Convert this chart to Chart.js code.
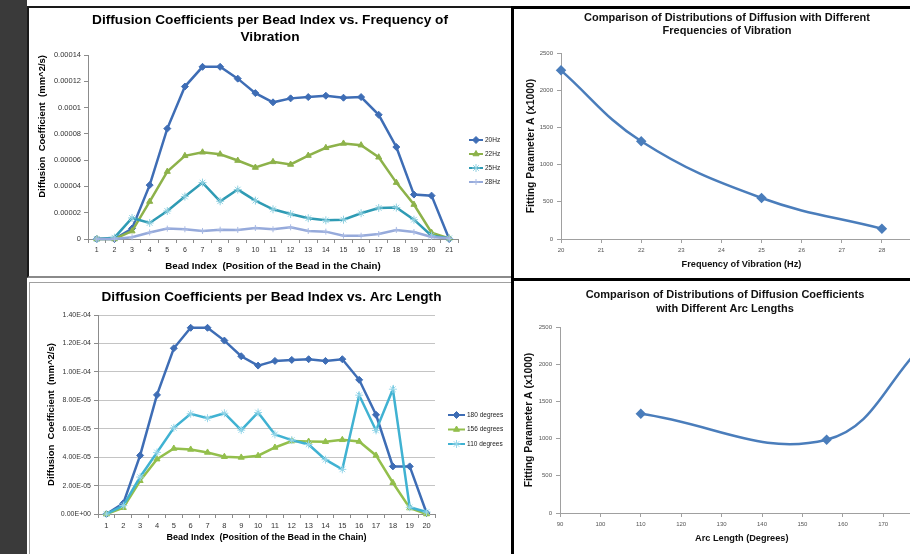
<!DOCTYPE html>
<html>
<head>
<meta charset="utf-8">
<title>Diffusion coefficients</title>
<script src="https://cdn.jsdelivr.net/npm/chart.js@4.4.1/dist/chart.umd.min.js"></script>
<style>
    html, body { margin: 0; padding: 0; width: 910px; height: 554px; overflow: hidden; background: #fff; }
    .strip { position: absolute; left: 0; top: 0; width: 27px; height: 554px; background: #3a3a3a; }
    .panel { position: absolute; box-sizing: border-box; }
    #panelA { left: 27px; top: 6px; width: 486px; height: 272px; border: 2px solid #1a1a1a; border-bottom-color: #8a8a8a; }
    #panelC { left: 29px; top: 282px; width: 484px; height: 290px; border: 1px solid #a0a0a0; }
    #panelB { left: 511px; top: 6px; width: 440px; height: 275px; border: 3px solid #000; }
    #panelD { left: 511px; top: 278px; width: 440px; height: 300px; border: 3px solid #000; }
    canvas { position: absolute; }
</style>
</head>
<body>
<div class="strip"></div>
<div class="panel" id="panelA"></div>
<div class="panel" id="panelC"></div>
<div class="panel" id="panelB"></div>
<div class="panel" id="panelD"></div>
<canvas id="Freq" width="484" height="268" style="left:28px;top:8px"></canvas>
<canvas id="Arc" width="481" height="270" style="left:31px;top:284px"></canvas>
<canvas id="FitFreq" width="454" height="266" style="left:500px;top:9px"></canvas>
<canvas id="FitArc" width="450" height="271" style="left:500px;top:283px"></canvas>
<script>
// Eje X de los graficos por bead
const beadLabels21 = ["1", "2", "3", "4", "5", "6", "7", "8", "9", "10", "11", "12", "13", "14", "15", "16", "17", "18", "19", "20", "21"];
const beadLabels20 = ["1", "2", "3", "4", "5", "6", "7", "8", "9", "10", "11", "12", "13", "14", "15", "16", "17", "18", "19", "20"];

// Coeficientes por frecuencia (mm^2/s)
const freq20Hz = [0, 0, 0.000008, 0.000041, 0.000084, 0.000116, 0.000131, 0.000131, 0.000122, 0.000111, 0.000104, 0.000107, 0.000108, 0.000109, 0.0001075, 0.000108, 0.0000945, 0.00007, 0.0000338, 0.000033, 0];
const freq22Hz = [0, 0, 0.000006, 0.0000285, 0.0000513, 0.0000633, 0.000066, 0.0000645, 0.0000597, 0.0000544, 0.0000587, 0.0000567, 0.0000635, 0.0000694, 0.0000727, 0.0000714, 0.0000622, 0.0000429, 0.0000262, 0.0000048, 0.0000005];
const freq25Hz = [0, 0.000001, 0.000016, 0.0000122, 0.0000213, 0.0000323, 0.0000429, 0.0000287, 0.0000376, 0.0000292, 0.0000226, 0.000019, 0.0000158, 0.0000142, 0.0000147, 0.0000196, 0.0000236, 0.0000239, 0.0000147, 0.0000025, 0.0000005];
const freq28Hz = [0, 0, 0.0000013, 0.000005, 0.0000079, 0.0000074, 0.0000061, 0.0000071, 0.0000069, 0.0000084, 0.0000074, 0.0000089, 0.0000061, 0.0000056, 0.0000025, 0.0000025, 0.0000038, 0.0000069, 0.0000053, 0.0000015, 0.0000005];

// Coeficientes por longitud de arco (mm^2/s)
const arc180 = [0, 0.0000075, 0.0000412, 0.0000838, 0.0001166, 0.000131, 0.000131, 0.000122, 0.000111, 0.0001044, 0.0001077, 0.0001084, 0.0001089, 0.0001077, 0.0001089, 0.0000944, 0.0000698, 0.0000335, 0.0000335, 0.0000007];
const arc156 = [0, 0.0000044, 0.0000234, 0.0000386, 0.0000461, 0.0000454, 0.0000433, 0.0000403, 0.0000398, 0.000041, 0.0000468, 0.0000513, 0.000051, 0.0000508, 0.0000522, 0.000051, 0.0000412, 0.000022, 0.0000042, 0];
const arc110 = [0, 0.0000059, 0.000026, 0.0000433, 0.0000606, 0.0000705, 0.0000674, 0.0000709, 0.000059, 0.0000714, 0.000056, 0.000052, 0.0000489, 0.0000382, 0.0000314, 0.0000836, 0.0000588, 0.0000878, 0.0000047, 0.0000014];

// Parametro de ajuste A (x1000)
const freqValues = [20, 22, 25, 28];
const fitByFreq = [2267, 1313, 551, 138];
const arcValues = [110, 156, 180];
const fitByArc = [1333, 985, 2267];

const plain = '"Liberation Sans", Arial, sans-serif';
const axisGrey = "#8c8c8c";

Chart.defaults.font.family = plain;
Chart.defaults.color = "#333";

function fixWidth(w) { return function (scale) { scale.width = w; }; }
function fixHeight(h) { return function (scale) { scale.height = h; }; }

function sci(v) {
    const parts = Number(v).toExponential(2).split("e");
    const n = Number(parts[1]);
    return parts[0] + "E" + (n < 0 ? "-" : "+") + String(Math.abs(n)).padStart(2, "0");
}

// espacio reservado a la derecha (leyenda / recorte)
function spacer(w) {
    return {
        type: "linear",
        position: "right",
        ticks: { display: false },
        grid: { display: false },
        border: { display: false },
        afterFit: fixWidth(w)
    };
}

// leyenda estilo Excel: linea con marcador
const sideLegend = {
    id: "sideLegend",
    afterDraw(chart, args, opts) {
        const { ctx, chartArea } = chart;
        ctx.save();
        ctx.font = opts.font;
        ctx.textBaseline = "middle";
        ctx.textAlign = "left";
        chart.data.datasets.forEach(function (ds, i) {
            const x = chartArea.right + opts.left;
            const y = chartArea.top + opts.top + i * opts.gap;
            ctx.strokeStyle = ds.borderColor;
            ctx.lineWidth = 2;
            ctx.beginPath();
            ctx.moveTo(x, y);
            ctx.lineTo(x + opts.length, y);
            ctx.stroke();
            ctx.fillStyle = ds.pointBackgroundColor;
            ctx.strokeStyle = ds.pointBorderColor;
            ctx.lineWidth = ds.pointBorderWidth;
            Chart.helpers.drawPoint(ctx, { pointStyle: ds.pointStyle, rotation: 0, radius: ds.pointRadius, borderWidth: ds.pointBorderWidth }, x + opts.length / 2, y);
            ctx.fillStyle = "#222";
            ctx.fillText(ds.label, x + opts.length + 2, y);
        });
        ctx.restore();
    }
};

function series(label, data, color, style, markColor, radius, order) {
    return {
        label: label,
        data: data,
        borderColor: color,
        borderWidth: 2.5,
        pointStyle: style,
        pointRadius: radius,
        pointBackgroundColor: markColor,
        pointBorderColor: markColor,
        pointBorderWidth: 1,
        tension: 0,
        clip: false,
        order: order
    };
}

function fnFreq() {
    const canvas = document.querySelector("#Freq");
    new Chart(canvas, {
        type: "line",
        data: {
            labels: beadLabels21,
            datasets: [
                series("20Hz", freq20Hz, "#3e6db5", "rectRot", "#3e6db5", 3.5, 3),
                series("22Hz", freq22Hz, "#8db24a", "triangle", "#8db24a", 3.5, 2),
                series("25Hz", freq25Hz, "#2f9bb4", "star", "#8fd0e0", 4, 1),
                series("28Hz", freq28Hz, "#96aadb", "cross", "#aabbe4", 3, 0)
            ]
        },
        options: {
            responsive: false,
            animation: false,
            layout: { padding: 0 },
            plugins: {
                legend: { display: false },
                tooltip: { enabled: false },
                title: {
                    display: true,
                    text: ["Diffusion Coefficients per Bead Index vs. Frequency of", "Vibration"],
                    color: "#000",
                    font: { size: 13.7, weight: "bold", lineHeight: "17px" },
                    padding: { top: 3.5, bottom: 9.5 }
                },
                sideLegend: { font: "6.5px " + plain, left: 11, top: 85, gap: 14, length: 14 }
            },
            scales: {
                x: {
                    type: "category",
                    offset: true,
                    grid: { offset: true, drawOnChartArea: false, color: axisGrey, tickLength: 4 },
                    border: { color: axisGrey },
                    ticks: { font: { size: 7 }, maxRotation: 0, autoSkip: false, padding: 3 },
                    title: {
                        display: true,
                        text: "Bead Index  (Position of the Bead in the Chain)",
                        color: "#000",
                        font: { size: 9.7, weight: "bold", lineHeight: "11px" },
                        padding: { top: 0, bottom: 4.5 }
                    },
                    afterFit: fixHeight(37)
                },
                y: {
                    min: 0,
                    max: 0.00014,
                    ticks: { stepSize: 0.00002, font: { size: 7.5 }, padding: 3, callback: v => String(Number(v.toFixed(6))) },
                    grid: { drawOnChartArea: false, color: axisGrey, tickLength: 4 },
                    border: { color: axisGrey },
                    title: {
                        display: true,
                        text: "Diffusion  Coefficient  (mm^2/s)",
                        align: "end",
                        color: "#000",
                        font: { size: 9.5, weight: "bold", lineHeight: "11px" },
                        padding: { top: 8.5, bottom: 0 }
                    },
                    afterFit: fixWidth(60)
                },
                spacer: spacer(54)
            }
        },
        plugins: [sideLegend]
    });
}

function fnArc() {
    const canvas = document.querySelector("#Arc");
    new Chart(canvas, {
        type: "line",
        data: {
            labels: beadLabels20,
            datasets: [
                series("180 degrees", arc180, "#3e6db5", "rectRot", "#3e6db5", 3.5, 2),
                series("156 degrees", arc156, "#93bf4c", "triangle", "#93bf4c", 3.5, 1),
                series("110 degrees", arc110, "#40b2d2", "star", "#9ad8ea", 4, 0)
            ]
        },
        options: {
            responsive: false,
            animation: false,
            layout: { padding: 0 },
            plugins: {
                legend: { display: false },
                tooltip: { enabled: false },
                title: {
                    display: true,
                    text: "Diffusion Coefficients per Bead Index vs. Arc Length",
                    color: "#000",
                    font: { size: 13.6, weight: "bold", lineHeight: "17px" },
                    padding: { top: 4.5, bottom: 9.5 }
                },
                sideLegend: { font: "6.5px " + plain, left: 13, top: 100, gap: 14.5, length: 17 }
            },
            scales: {
                x: {
                    type: "category",
                    offset: true,
                    grid: { offset: true, drawOnChartArea: false, color: axisGrey, tickLength: 4 },
                    border: { color: axisGrey },
                    ticks: { font: { size: 7.5 }, maxRotation: 0, autoSkip: false, padding: 3 },
                    title: {
                        display: true,
                        text: "Bead Index  (Position of the Bead in the Chain)",
                        color: "#000",
                        font: { size: 9, weight: "bold", lineHeight: "11px" },
                        padding: { top: 0, bottom: 10.5 }
                    },
                    afterFit: fixHeight(40)
                },
                y: {
                    min: 0,
                    max: 0.00014,
                    ticks: { stepSize: 0.00002, font: { size: 7 }, padding: 3, callback: v => sci(v) },
                    grid: { drawOnChartArea: true, color: "#c4c4c4", tickColor: axisGrey, tickLength: 4 },
                    border: { color: axisGrey },
                    title: {
                        display: true,
                        text: "Diffusion  Coefficient  (mm^2/s)",
                        color: "#000",
                        font: { size: 9.5, weight: "bold", lineHeight: "11px" },
                        padding: { top: 14.5, bottom: 0 }
                    },
                    afterFit: fixWidth(67)
                },
                spacer: spacer(77)
            }
        },
        plugins: [sideLegend]
    });
}

function fitChart(id, xs, ys, opt) {
    const canvas = document.querySelector(id);
    const points = xs.map((x, i) => ({ x: x, y: ys[i] }));
    new Chart(canvas, {
        type: "scatter",
        data: {
            datasets: [{
                data: points,
                showLine: true,
                tension: 0.4,
                borderColor: "#4a7dbb",
                borderWidth: 2.5,
                pointStyle: "rectRot",
                pointRadius: 3.5,
                pointBackgroundColor: "#4a7dbb",
                pointBorderColor: "#4a7dbb",
                clip: false
            }]
        },
        options: {
            responsive: false,
            animation: false,
            layout: { padding: 0 },
            plugins: {
                legend: { display: false },
                tooltip: { enabled: false },
                title: {
                    display: true,
                    text: opt.title,
                    color: "#111",
                    font: { size: 11, weight: "bold", lineHeight: opt.titleLine },
                    padding: opt.titlePad
                }
            },
            scales: {
                x: {
                    type: "linear",
                    min: opt.xMin,
                    max: opt.xMax,
                    ticks: { stepSize: opt.xStep, font: { size: 6 }, color: "#555", padding: 4, callback: v => String(v) },
                    grid: { drawOnChartArea: false, color: "#a0a0a0", tickLength: 4 },
                    border: { color: "#a0a0a0" },
                    title: {
                        display: true,
                        text: opt.xTitle,
                        color: "#111",
                        font: { size: 9.2, weight: "bold", lineHeight: "12px" },
                        padding: { top: 0, bottom: opt.xTitlePad }
                    },
                    afterFit: fixHeight(opt.xHeight)
                },
                y: {
                    min: 0,
                    max: 2500,
                    ticks: { stepSize: 500, font: { size: 6 }, color: "#555", padding: 4, callback: v => String(v) },
                    grid: { drawOnChartArea: false, color: "#a0a0a0", tickLength: 4 },
                    border: { color: "#a0a0a0" },
                    title: {
                        display: true,
                        text: "Fitting Parameter A (x1000)",
                        color: "#111",
                        font: { size: 10.4, weight: "bold", lineHeight: "12px" },
                        padding: { top: opt.yTitlePad, bottom: 0 }
                    },
                    afterFit: fixWidth(opt.yWidth)
                },
                spacer: spacer(opt.spacer)
            }
        }
    });
}

function fnFitFreq() {
    fitChart("#FitFreq", freqValues, fitByFreq, {
        title: ["Comparison of Distributions of Diffusion with Different", "Frequencies of Vibration"],
        titleLine: "13px",
        titlePad: { top: 2.5, bottom: 15.5 },
        xMin: 20, xMax: 29, xStep: 1,
        xTitle: "Frequency of Vibration (Hz)",
        xTitlePad: 5, xHeight: 36,
        yTitlePad: 25, yWidth: 61,
        spacer: 32
    });
}

function fnFitArc() {
    fitChart("#FitArc", arcValues, fitByArc, {
        title: ["Comparison of Distributions of Diffusion Coefficients", "with Different Arc Lengths"],
        titleLine: "14px",
        titlePad: { top: 5, bottom: 11 },
        xMin: 90, xMax: 180, xStep: 10,
        xTitle: "Arc Length (Degrees)",
        xTitlePad: 10, xHeight: 41,
        yTitlePad: 23, yWidth: 60,
        spacer: 26.4
    });
}

fnFreq();
fnArc();
fnFitFreq();
fnFitArc();
</script>
</body>
</html>
